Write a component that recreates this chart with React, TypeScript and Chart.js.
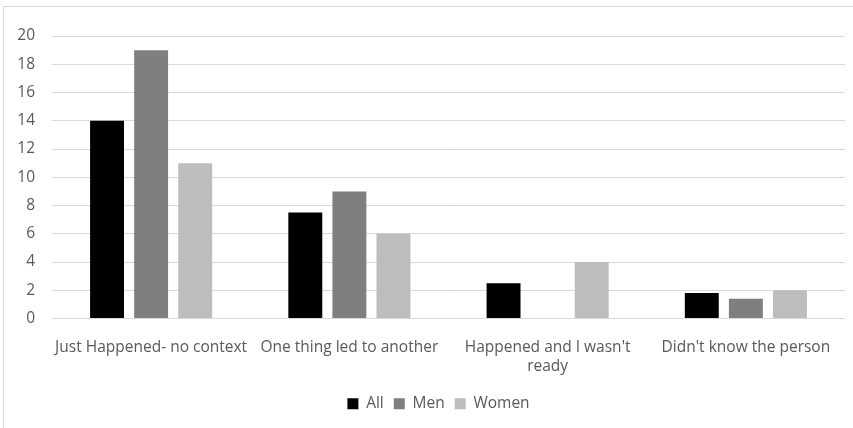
import React, { useEffect, useRef } from "react";
import { Chart, registerables } from "chart.js";

Chart.register(...registerables);

const categories: (string | string[])[] = [
  "Just Happened- no context",
  "One thing led to another",
  ["Happened and I wasn't", "ready"],
  "Didn't know the person",
];
const allValues = [14, 7.5, 2.5, 1.8];
const menValues = [19, 9, 0, 1.4];
const womenValues = [11, 6, 4, 2];

const legendShift = {
  id: "legendShift",
  afterLayout(chart: any) {
    const lg = chart.legend;
    if (lg) {
      lg.left += 14;
      lg.right += 14;
    }
  },
};

export default function App() {
  const ref = useRef<HTMLCanvasElement>(null);
  useEffect(() => {
    if (!ref.current) return;
    const font = { family: "'Open Sans', 'Liberation Sans', sans-serif", size: 15.5, lineHeight: 1.22 };
    const chart = new Chart(ref.current, {
      type: "bar",
      data: {
        labels: categories,
        datasets: [
          { label: "All", data: allValues, backgroundColor: "#000000" },
          { label: "Men", data: menValues, backgroundColor: "#7f7f7f" },
          { label: "Women", data: womenValues, backgroundColor: "#bdbdbd" },
        ],
      },
      plugins: [legendShift],
      options: {
        animation: false,
        responsive: false,
        maintainAspectRatio: false,
        layout: { padding: { left: 0, right: 0, top: 29, bottom: 6.5 } },
        datasets: {
          bar: { categoryPercentage: 0.667, barPercentage: 0.77 },
        },
        plugins: {
          legend: {
            position: "bottom",
            labels: {
              font,
              color: "#595959",
              boxWidth: 11,
              boxHeight: 11,
              padding: 10,
            },
          },
          tooltip: { enabled: false },
        },
        scales: {
          x: {
            grid: { display: false },
            border: { display: false },
            ticks: { font, color: "#595959", maxRotation: 0, autoSkip: false, padding: 12 },
            afterFit: (s: any) => {
              s.height = 67.5;
            },
          },
          y: {
            min: 0,
            max: 20,
            ticks: { stepSize: 2, font, color: "#595959", padding: 17 },
            grid: { color: "#d9d9d9", drawTicks: false },
            border: { display: false },
            afterFit: (s: any) => {
              s.width = 48;
            },
          },
        },
      },
    });
    return () => chart.destroy();
  }, []);
  return (
    <div
      style={{
        position: "fixed",
        left: 0,
        top: 0,
        width: 853,
        height: 428,
        overflow: "hidden",
        background: "#fff",
      }}
    >
      <div
        style={{
          position: "absolute",
          left: 3,
          top: 6,
          width: 870,
          height: 440,
          border: "1px solid #d9d9d9",
          boxSizing: "border-box",
        }}
      >
        <canvas ref={ref} width={841} height={421} style={{ display: "block", width: 841, height: 421 }} />
      </div>
    </div>
  );
}
